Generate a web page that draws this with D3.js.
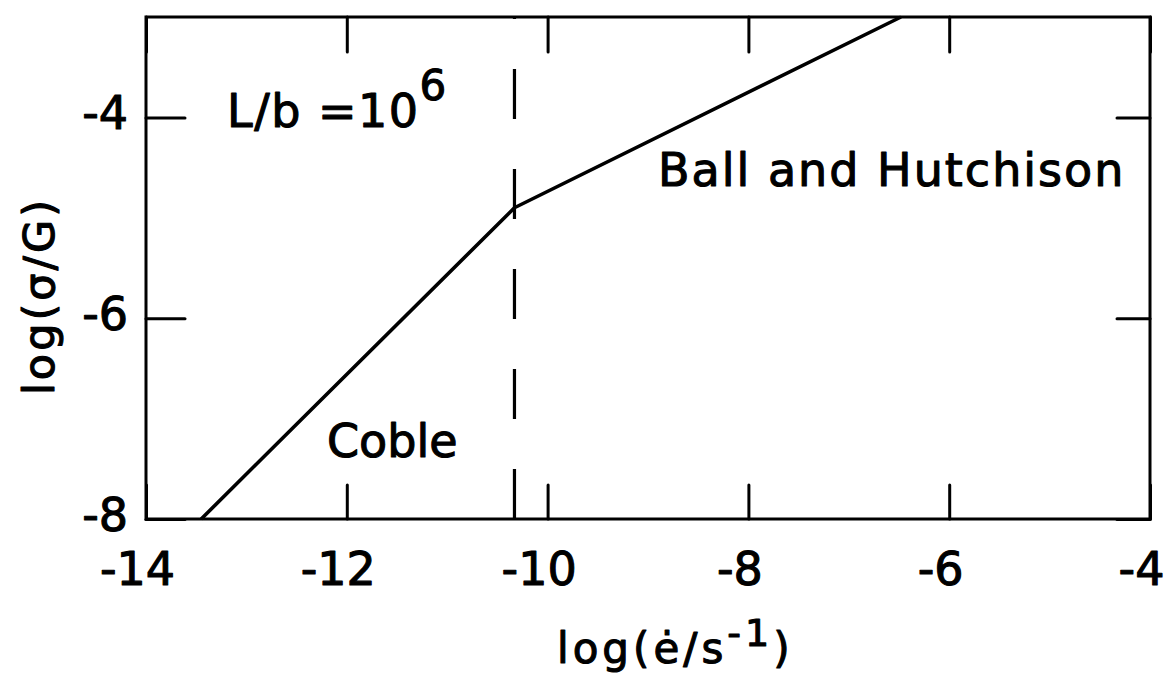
<!DOCTYPE html>
<html>
<head>
<meta charset="utf-8">
<script src="https://cdn.jsdelivr.net/npm/d3@7"></script>
<style>
  html, body { margin: 0; padding: 0; background: #fff; }
  svg { display: block; }
  text { font-family: "DejaVu Sans", sans-serif; fill: #000; stroke: #000; stroke-width: 1.1px; stroke-linejoin: round; }
</style>
</head>
<body>
<svg id="chart" width="1174" height="680"></svg>
<script>
// Flow-stress vs strain-rate regimes, L/b = 10^6
const xTicks = [-14, -12, -10, -8, -6, -4];
const yTicks = [-8, -6, -4];
const xDomain = [-14, -4];
const yDomain = [-8, -3];

// creep curve: Coble regime (slope 1) then Ball and Hutchison regime (slope 1/2)
const curveX = [-13.45, -10.33, -6.48];
const curveY = [-8, -4.9, -3];

// regime boundary (dashed vertical)
const boundaryX = -10.33;

const regimeLabels = ["Coble", "Ball and Hutchison"];

const svg = d3.select("#chart");
const plotLeft = 146, plotRight = 1150, plotTop = 17, plotBottom = 519;

const x = d3.scaleLinear().domain(xDomain).range([plotLeft, plotRight]);
const y = d3.scaleLinear().domain(yDomain).range([plotBottom, plotTop]);

const fmt = d => String(d).replace("\u2212", "-");

// frame
svg.append("rect")
  .attr("x", plotLeft).attr("y", plotTop)
  .attr("width", plotRight - plotLeft).attr("height", plotBottom - plotTop)
  .attr("fill", "none").attr("stroke", "#000").attr("stroke-width", 3);

// bottom axis: inward ticks + labels
const gB = svg.append("g").attr("transform", `translate(0,${plotBottom})`)
  .call(d3.axisBottom(x).tickValues(xTicks).tickSize(-34).tickPadding(33).tickFormat(fmt));
gB.selectAll("text").attr("dx", -9).style("font-size", "46px");

// top axis: inward ticks only
svg.append("g").attr("transform", `translate(0,${plotTop})`)
  .call(d3.axisTop(x).tickValues(xTicks).tickSize(-35).tickFormat(""));

// left axis: inward ticks + labels
const gL = svg.append("g").attr("transform", `translate(${plotLeft},0)`)
  .call(d3.axisLeft(y).tickValues(yTicks).tickSize(-39).tickPadding(18).tickFormat(fmt));
gL.selectAll("text").attr("dy", "0.25em").style("font-size", "46px");

// right axis: inward ticks only
svg.append("g").attr("transform", `translate(${plotRight},0)`)
  .call(d3.axisRight(y).tickValues(yTicks).tickSize(-33).tickFormat(""));

svg.selectAll(".domain").remove();
svg.selectAll(".tick line").attr("stroke", "#000").attr("stroke-width", 3).attr("stroke-linecap", "round");
svg.selectAll(".tick text").attr("fill", "#000").attr("stroke", "#000")
  .style("font-family", "DejaVu Sans, sans-serif");

// dashed boundary, drawn from the bottom up
svg.append("path")
  .attr("d", d3.line()([[x(boundaryX), y(yDomain[0])], [x(boundaryX), y(yDomain[1])]]))
  .attr("stroke", "#000").attr("stroke-width", 3.2)
  .attr("stroke-dasharray", "50,50").attr("fill", "none");

// curve
const pts = curveX.map((v, i) => [v, curveY[i]]);
svg.append("path")
  .attr("d", d3.line().x(d => x(d[0])).y(d => y(d[1]))(pts))
  .attr("stroke", "#000").attr("stroke-width", 3.6)
  .attr("fill", "none").attr("stroke-linejoin", "round");

// annotations
const lb = svg.append("text").attr("x", 227).attr("y", 127)
  .style("font-size", "46px").style("letter-spacing", "1.5px");
lb.append("tspan").text("L/b =10");
lb.append("tspan").attr("dy", -27).style("font-size", "42px").text("6");

svg.append("text").attr("x", 327).attr("y", 457)
  .style("font-size", "46px").text(regimeLabels[0]);

svg.append("text").attr("x", 658).attr("y", 186)
  .style("font-size", "46px").style("letter-spacing", "2px").text(regimeLabels[1]);

// axis titles
const xt = svg.append("text").attr("x", 557).attr("y", 663)
  .style("font-size", "42px").style("letter-spacing", "4px");
xt.append("tspan").text("log(\u0117/s");
xt.append("tspan").attr("dy", -17).style("font-size", "38px").text("-1");
xt.append("tspan").attr("dy", 17).text(")");

svg.append("text")
  .attr("transform", "translate(54,296) rotate(-90)")
  .attr("text-anchor", "middle")
  .style("font-size", "43px").style("letter-spacing", "3px")
  .text("log(\u03c3/G)");
</script>
</body>
</html>
